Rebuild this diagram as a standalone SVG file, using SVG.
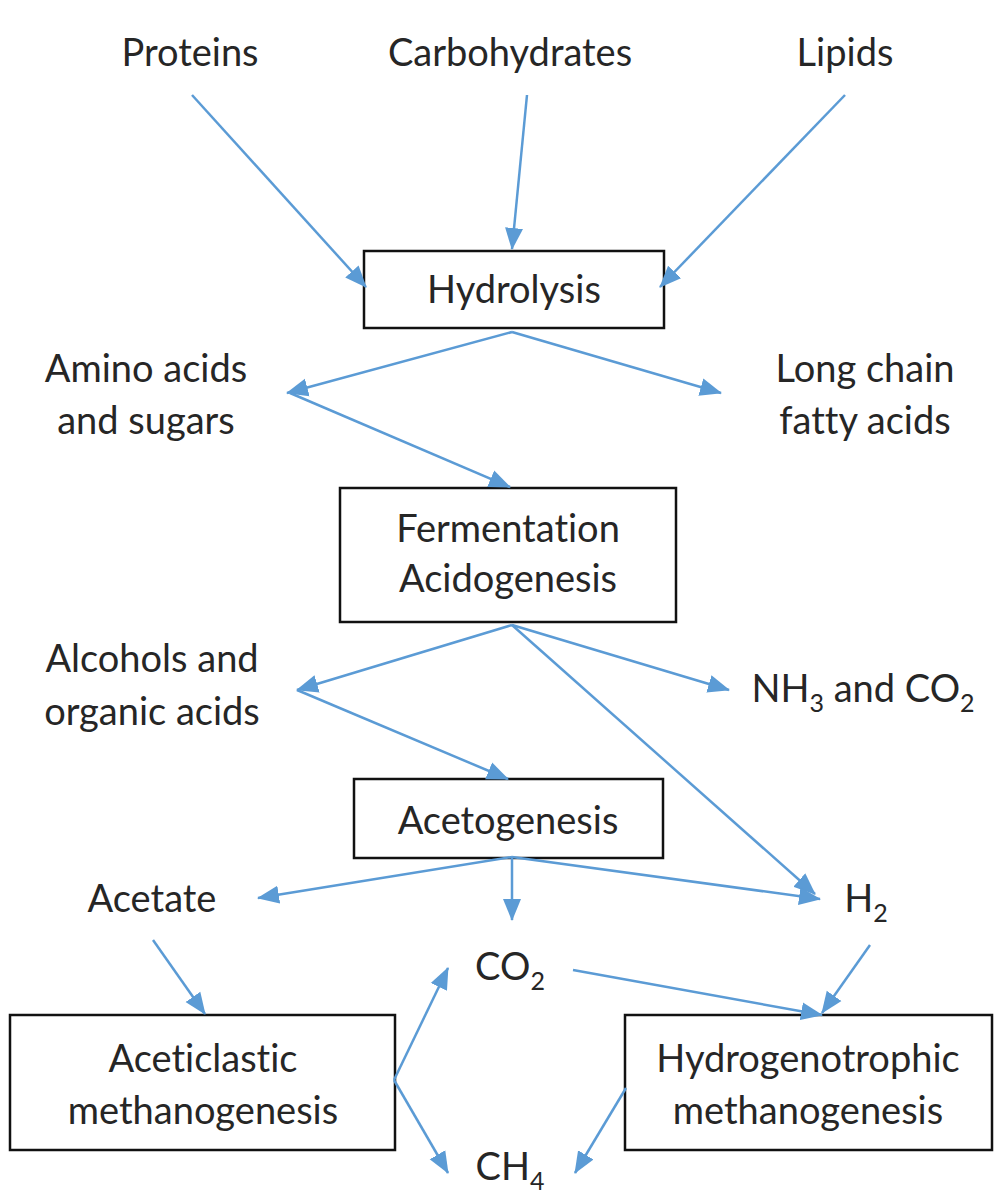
<svg xmlns="http://www.w3.org/2000/svg" width="1002" height="1194" viewBox="0 0 1002 1194">
<defs>
<marker id="ah" markerWidth="24" markerHeight="20" refX="21" refY="10" orient="auto" markerUnits="userSpaceOnUse">
<path d="M0,1 L22,10 L0,19 Z" fill="#5b9bd5"/>
</marker>
<style>
text{font-family:Lato,"Open Sans","Liberation Sans",sans-serif;font-size:38px;fill:#262626;text-anchor:middle;font-variant-ligatures:none;font-feature-settings:"liga" 0}
.sub{font-size:25px}
.box{fill:#fff;stroke:#111;stroke-width:2.5}
.c line{stroke:#5b9bd5;stroke-width:2.5;marker-end:url(#ah)}
</style>
</defs>
<rect x="0" y="0" width="1002" height="1194" fill="#fff"/>
<g id="proteins"><text x="190" y="66">Proteins</text></g>
<g id="carbohydrates"><text x="510" y="66">Carbohydrates</text></g>
<g id="lipids"><text x="845" y="66">Lipids</text></g>
<g id="hydrolysis"><rect class="box" x="364" y="251" width="300" height="77"/><text x="514" y="303">Hydrolysis</text></g>
<g id="amino"><text x="146" y="382">Amino acids</text><text x="146" y="434">and sugars</text></g>
<g id="lcfa"><text x="865" y="382">Long chain</text><text x="865" y="434">fatty acids</text></g>
<g id="fermentation"><rect class="box" x="340" y="488" width="336" height="134"/><text x="508" y="542">Fermentation</text><text x="508" y="592">Acidogenesis</text></g>
<g id="alcohols"><text x="152" y="672">Alcohols and</text><text x="152" y="725">organic acids</text></g>
<g id="nh3co2"><text x="863" y="702">NH<tspan class="sub" dy="10">3</tspan><tspan dy="-10"> and CO</tspan><tspan class="sub" dy="10">2</tspan></text></g>
<g id="acetogenesis"><rect class="box" x="354" y="779" width="309" height="79"/><text x="508" y="834">Acetogenesis</text></g>
<g id="acetate"><text x="152" y="912">Acetate</text></g>
<g id="h2"><text x="866" y="912">H<tspan class="sub" dy="10">2</tspan></text></g>
<g id="co2"><text x="510" y="980">CO<tspan class="sub" dy="10">2</tspan></text></g>
<g id="aceticlastic"><rect class="box" x="10" y="1015" width="385" height="135"/><text x="203" y="1072">Aceticlastic</text><text x="203" y="1124">methanogenesis</text></g>
<g id="hydrogenotrophic"><rect class="box" x="625" y="1015" width="367" height="135"/><text x="808" y="1072">Hydrogenotrophic</text><text x="808" y="1124">methanogenesis</text></g>
<g id="ch4"><text x="510" y="1180">CH<tspan class="sub" dy="10">4</tspan></text></g>
<g class="c" id="connectors">
<line x1="192" y1="95" x2="366" y2="287"/>
<line x1="527" y1="95" x2="512" y2="249"/>
<line x1="845" y1="95" x2="660" y2="287"/>
<line x1="512" y1="332" x2="287" y2="393"/>
<line x1="512" y1="332" x2="721" y2="393"/>
<line x1="290" y1="393" x2="510" y2="487"/>
<line x1="512" y1="625" x2="297" y2="690"/>
<line x1="512" y1="625" x2="729" y2="690"/>
<line x1="512" y1="625" x2="815" y2="894"/>
<line x1="297" y1="690" x2="508" y2="779"/>
<line x1="512" y1="857" x2="258" y2="898"/>
<line x1="512" y1="857" x2="512" y2="920"/>
<line x1="512" y1="857" x2="820" y2="899"/>
<line x1="153" y1="940" x2="205" y2="1014"/>
<line x1="870" y1="945" x2="822" y2="1013"/>
<line x1="573" y1="970" x2="822" y2="1015"/>
<line x1="394" y1="1080" x2="448" y2="968"/>
<line x1="394" y1="1080" x2="448" y2="1173"/>
<line x1="626" y1="1088" x2="575" y2="1173"/>
</g>
</svg>
